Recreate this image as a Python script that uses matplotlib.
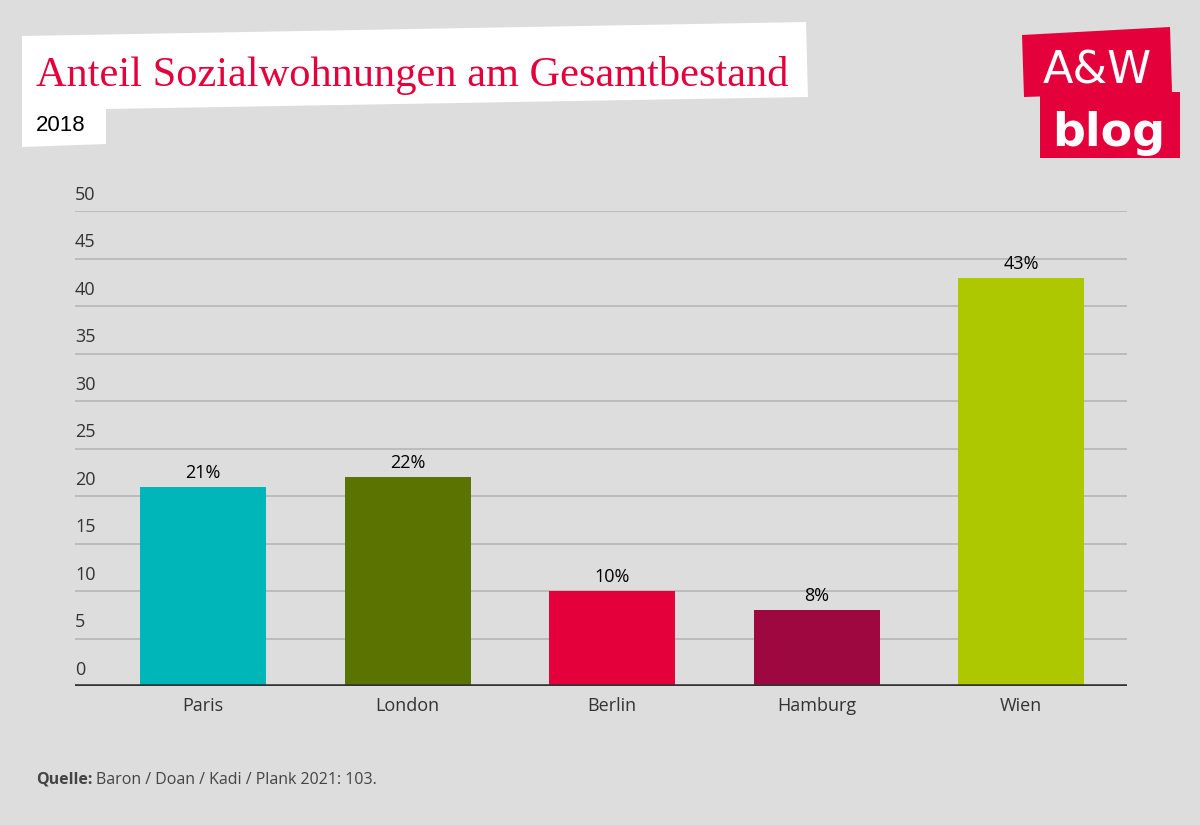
import matplotlib

matplotlib.use("Agg")
import matplotlib.pyplot as plt
from matplotlib.patches import Polygon

BG = "#dddddd"
RED = "#e4003b"
DARK = "#333333"

cities = ["Paris", "London", "Berlin", "Hamburg", "Wien"]
shares = [21, 22, 10, 8, 43]
bar_colors = ["#00b6b8", "#5b7300", "#e4003b", "#9d0840", "#adc800"]
yticks = [0, 5, 10, 15, 20, 25, 30, 35, 40, 45, 50]

W, H = 1200, 825
fig = plt.figure(figsize=(12, 8.25), dpi=100, facecolor=BG)


def px(x, y):
    """pixel coords (top-left origin) -> figure fraction"""
    return (x / W, 1 - y / H)


# title white box (slightly skewed)
title_box = [px(22, 36), px(806, 22), px(808, 97), px(106, 109), px(106, 144), px(22, 147)]
fig.patches.append(Polygon(title_box, closed=True, transform=fig.transFigure,
                           facecolor="white", edgecolor="none", zorder=1))
fig.text(*px(36, 86), "Anteil Sozialwohnungen am Gesamtbestand", fontsize=30.5,
         family="Liberation Serif", color=RED, ha="left", va="baseline", zorder=2)
fig.text(*px(36, 131), "2018", fontsize=16, family="Liberation Sans",
         color="black", ha="left", va="baseline", zorder=2)

# logo
fig.patches.append(Polygon([px(1022, 35), px(1170, 27), px(1172, 92), px(1024, 97)], closed=True,
                           transform=fig.transFigure, facecolor=RED, edgecolor="none"))
fig.patches.append(Polygon([px(1040, 92), px(1180, 92), px(1180, 158), px(1040, 158)], closed=True,
                           transform=fig.transFigure, facecolor=RED, edgecolor="none"))
fig.text(*px(1097, 83), "A&W", fontsize=32, color="white", ha="center", va="baseline",
         family="DejaVu Sans")
fig.text(*px(1109, 146), "blog", fontsize=33, color="white", ha="center", va="baseline",
         family="DejaVu Sans", weight="bold")

# chart area
ax = fig.add_axes([75 / W, 1 - 686 / H, (1127 - 75) / W, (686 - 211) / H])
ax.set_facecolor(BG)
x = range(len(cities))
bars = ax.bar(x, shares, width=0.616, color=bar_colors, zorder=2)
ax.set_xlim(-0.626, 4.518)
ax.set_ylim(0, 50)

for yv in yticks[1:]:
    ax.axhline(yv, color="#bcbcbc", lw=1.4, zorder=1)
ax.axhline(0, color=DARK, lw=2.6, zorder=3)

for yv in yticks:
    ax.text(0, yv + 0.75, str(yv), transform=ax.get_yaxis_transform(), ha="left", va="bottom",
            fontsize=13, family="Open Sans", color=DARK)

for b, v in zip(bars, shares):
    ax.text(b.get_x() + b.get_width() / 2, v + 0.5, f"{v}%", ha="center", va="bottom",
            fontsize=13, family="Open Sans", color="black")

ax.set_xticks(list(x))
ax.set_xticklabels(cities, fontsize=13, family="Open Sans", color=DARK)
ax.tick_params(axis="x", length=0, pad=8)
ax.set_yticks([])
for s in ax.spines.values():
    s.set_visible(False)

# source
q = fig.text(*px(36, 784), "Quelle:", fontsize=11.5, family="Open Sans", weight="bold",
             color="#444444", ha="left", va="baseline")
bb = q.get_window_extent(renderer=fig.canvas.get_renderer())
fig.text((bb.x1 + 4) / W, 1 - 784 / H, "Baron / Doan / Kadi / Plank 2021: 103.", fontsize=11.5,
         family="Open Sans", color="#444444", ha="left", va="baseline")

fig.savefig("out.png", dpi=100, facecolor=BG)
plt.close()
